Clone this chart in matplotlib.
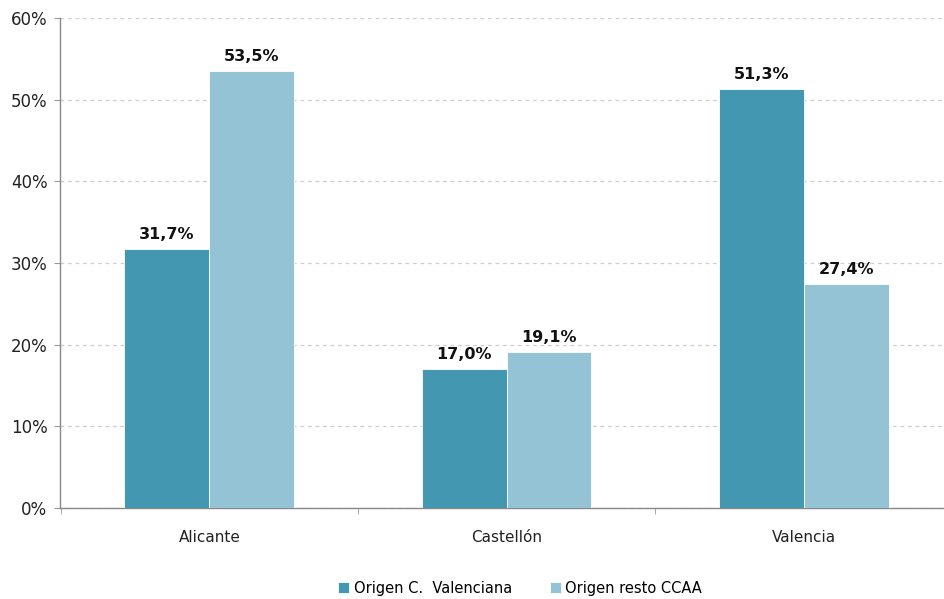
import numpy as np
import matplotlib.pyplot as plt
from matplotlib.ticker import FuncFormatter

# Data
provincias = ["Alicante", "Castellón", "Valencia"]
origen_cv = [31.7, 17.0, 51.3]
origen_resto = [53.5, 19.1, 27.4]
series_names = ["Origen C.  Valenciana", "Origen resto CCAA"]

color_cv = "#4397B0"
color_resto = "#93C3D4"

fig = plt.figure(figsize=(9.45, 5.99), dpi=100)
ax = fig.add_axes([60 / 945, 1 - 508 / 599, 1 - 60 / 945, (508 - 18) / 599])

x = np.arange(len(provincias))
width = 0.286

b1 = ax.bar(x - width / 2, origen_cv, width=width, color=color_cv, label=series_names[0],
            edgecolor="white", linewidth=0.6, zorder=3)
b2 = ax.bar(x + width / 2, origen_resto, width=width, color=color_resto, label=series_names[1],
            edgecolor="white", linewidth=0.6, zorder=3)

def fmt(v):
    return f"{v:.1f}%".replace(".", ",")

for bars, vals in ((b1, origen_cv), (b2, origen_resto)):
    for rect, v in zip(bars, vals):
        ax.annotate(fmt(v), (rect.get_x() + rect.get_width() / 2, v),
                    xytext=(0, 5), textcoords="offset points",
                    ha="center", va="bottom", fontsize=11.5, fontweight="bold",
                    color="#111111")

ax.set_ylim(0, 60)
ax.set_xlim(-0.503, 2.476)
ax.set_yticks(np.arange(0, 61, 10))
ax.yaxis.set_major_formatter(FuncFormatter(lambda v, p: f"{int(v)}%"))
ax.grid(axis="y", linestyle=(0, (3, 3)), color="#CFCFCF", linewidth=0.9, zorder=0)

ax.set_xticks(x)
ax.set_xticklabels(provincias)
ax.set_xticks([-0.5, 0.5, 1.5], minor=True)
ax.tick_params(axis="x", which="major", length=0, pad=16, labelsize=11, labelcolor="#222222")
ax.tick_params(axis="x", which="minor", length=4, color="#999999")
ax.tick_params(axis="y", length=4, color="#999999", labelsize=12, labelcolor="#222222", pad=5)

for side in ("top", "right"):
    ax.spines[side].set_visible(False)
for side in ("left", "bottom"):
    ax.spines[side].set_color("#888888")
    ax.spines[side].set_linewidth(1.0)

ax.legend(loc="upper center", bbox_to_anchor=(0.52, -0.122), ncol=2, frameon=False,
          fontsize=10.5, handlelength=0.75, handleheight=0.75, handletextpad=0.3,
          columnspacing=2.6)

fig.savefig("out.png", dpi=100)
